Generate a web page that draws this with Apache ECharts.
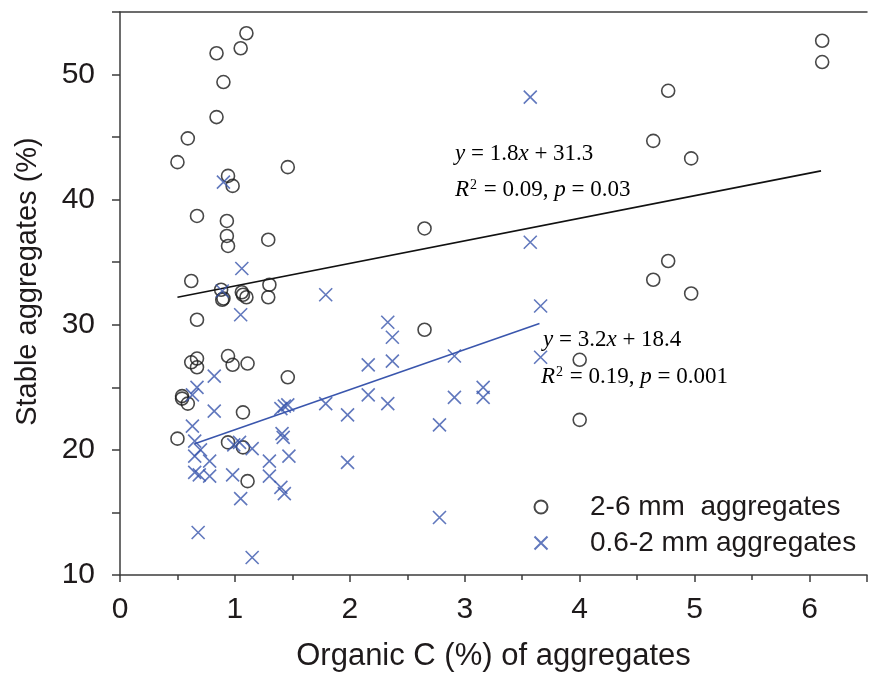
<!DOCTYPE html>
<html>
<head>
<meta charset="utf-8">
<script src="https://cdn.jsdelivr.net/npm/echarts@6/dist/echarts.min.js"></script>
<style>
  html, body { margin: 0; padding: 0; background: #fff; }
  #chart { width: 870px; height: 677px; }
</style>
</head>
<body>
<div id="chart"></div>
<script>
// 2-6 mm aggregates (circles)
const coarseC = [1.10, 1.05, 0.84, 0.90, 0.84, 0.59, 0.50, 1.46, 0.94, 0.98,
  0.67, 0.93, 0.93, 0.94, 1.29, 0.62, 1.30, 1.29, 1.06, 1.07,
  1.10, 0.88, 0.89, 0.90, 0.67, 0.62, 0.67, 0.67, 0.94, 0.98,
  1.11, 1.46, 0.54, 0.54, 0.59, 1.07, 0.50, 0.94, 1.07, 1.11,
  2.65, 2.65, 4.00, 4.00, 4.64, 4.97, 6.11, 6.11, 4.77, 4.64,
  4.97, 4.77];
const coarseStable = [53.3, 52.1, 51.7, 49.4, 46.6, 44.9, 43.0, 42.6, 41.9, 41.1,
  38.7, 38.3, 37.1, 36.3, 36.8, 33.5, 33.2, 32.2, 32.6, 32.4,
  32.2, 32.8, 32.0, 32.1, 30.4, 27.0, 27.3, 26.6, 27.5, 26.8,
  26.9, 25.8, 24.3, 24.1, 23.7, 23.0, 20.9, 20.6, 20.2, 17.5,
  37.7, 29.6, 27.2, 22.4, 33.6, 32.5, 52.7, 51.0, 48.7, 44.7,
  43.3, 35.1];

// 0.6-2 mm aggregates (crosses)
const fineC = [0.90, 1.06, 0.89, 1.05, 0.82, 0.67, 0.63, 0.82, 0.63, 0.65,
  0.70, 0.65, 0.78, 0.65, 0.69, 0.78, 0.98, 0.99, 1.04, 1.15,
  1.30, 1.30, 1.05, 1.40, 1.43, 1.47, 1.41, 1.42, 1.43, 1.46,
  1.40, 0.68, 1.15, 1.79, 2.33, 2.37, 2.37, 2.16, 2.16, 1.79,
  1.98, 2.33, 1.98, 2.91, 2.91, 2.78, 2.78, 3.16, 3.16, 3.66,
  3.66, 3.57, 3.57];
const fineStable = [41.4, 34.5, 32.7, 30.8, 25.9, 25.0, 24.4, 23.1, 21.9, 20.7,
  20.0, 19.5, 19.1, 18.2, 18.0, 17.9, 18.0, 20.4, 20.6, 20.1,
  19.1, 17.9, 16.1, 17.0, 16.5, 19.5, 21.3, 21.0, 23.5, 23.6,
  23.3, 13.4, 11.4, 32.4, 30.2, 29.0, 27.1, 26.8, 24.4, 23.7,
  22.8, 23.7, 19.0, 27.5, 24.2, 22.0, 14.6, 25.0, 24.2, 31.5,
  27.4, 48.2, 36.6];

// fitted lines, end points
const coarseFitX = [0.50, 6.10];
const coarseFitY = [32.2, 42.3];
const fineFitX = [0.65, 3.65];
const fineFitY = [20.5, 30.1];

const seriesNames = ['2-6 mm  aggregates', '0.6-2 mm aggregates'];

const blue = '#3a56ad';
const ink = '#1e1a1b';
const sans = 'Liberation Sans, Arial, sans-serif';
const serif = 'Liberation Serif, Times New Roman, serif';

const pairs = (xs, ys) => xs.map((x, i) => [x, ys[i]]);

const eqRich = {
  i: { fontFamily: serif, fontStyle: 'italic', fontSize: 23, color: '#2b2b2b' },
  n: { fontFamily: serif, fontSize: 23, color: '#2b2b2b' },
  s: { fontFamily: serif, fontSize: 14, color: '#2b2b2b', verticalAlign: 'top', padding: [0, 1, 10, 1] }
};

let chart = echarts.init(document.getElementById('chart'));
let option = {
  animation: false,
  grid: { left: 120, right: 0, top: 12, bottom: 101 },
  xAxis: [{
    type: 'value',
    min: 0,
    max: 6.5,
    interval: 1,
    name: 'Organic C (%) of aggregates',
    nameLocation: 'middle',
    nameGap: 66,
    nameTextStyle: { fontFamily: sans, fontSize: 31, color: ink },
    axisLine: { lineStyle: { color: '#3c3c3c', width: 1.5 } },
    axisTick: { length: 7, lineStyle: { color: '#3c3c3c', width: 1.5 } },
    minorTick: { show: true, splitNumber: 2, length: 5, lineStyle: { color: '#3c3c3c', width: 1.5 } },
    splitLine: { show: false },
    axisLabel: {
      fontFamily: sans, fontSize: 30, color: ink, margin: 20,
      formatter: v => (v % 1 === 0 ? String(v) : '')
    }
  }, {
    type: 'value',
    position: 'top',
    min: 0,
    max: 6.5,
    axisLine: { lineStyle: { color: '#3c3c3c', width: 1.5 } },
    axisTick: { show: false },
    axisLabel: { show: false },
    splitLine: { show: false }
  }],
  yAxis: {
    type: 'value',
    min: 10,
    max: 55,
    interval: 5,
    name: 'Stable aggregates (%)',
    nameLocation: 'middle',
    nameGap: 78,
    nameTextStyle: { fontFamily: sans, fontSize: 29, color: ink, padding: [0, 0, 0, 24] },
    axisLine: { lineStyle: { color: '#3c3c3c', width: 1.5 } },
    axisTick: { length: 8, lineStyle: { color: '#3c3c3c', width: 1.5 } },
    splitLine: { show: false },
    axisLabel: {
      fontFamily: sans, fontSize: 30, color: ink, margin: 25,
      formatter: v => (v % 10 === 0 ? String(v) : '')
    }
  },
  legend: {
    data: seriesNames,
    orient: 'vertical',
    left: 527,
    top: 488,
    itemWidth: 28,
    itemHeight: 13,
    itemGap: 8,
    textStyle: { fontFamily: sans, fontSize: 28, color: ink, padding: [0, 0, 0, 30] },
    selectedMode: false
  },
  series: [{
    name: seriesNames[0],
    type: 'scatter',
    data: pairs(coarseC, coarseStable),
    symbol: 'circle',
    symbolSize: 13,
    itemStyle: { color: 'rgba(255,255,255,0)', borderColor: '#1a1a1a', borderWidth: 1.6 },
    z: 3
  }, {
    name: seriesNames[1],
    type: 'scatter',
    data: pairs(fineC, fineStable),
    symbol: 'path://M0,0L10,10M10,0L0,10',
    symbolSize: 13,
    itemStyle: { color: 'none', borderColor: blue, borderWidth: 1.6 },
    z: 3
  }, {
    type: 'line',
    data: pairs(coarseFitX, coarseFitY),
    showSymbol: false,
    symbol: 'none',
    lineStyle: { color: '#111', width: 1.6 },
    z: 2
  }, {
    type: 'line',
    data: pairs(fineFitX, fineFitY),
    showSymbol: false,
    symbol: 'none',
    lineStyle: { color: blue, width: 1.6 },
    z: 2
  }],
  graphic: [{
    type: 'text', left: 455, top: 142,
    style: { text: '{i|y}{n| = 1.8}{i|x}{n| + 31.3}', rich: eqRich }
  }, {
    type: 'text', left: 455, top: 178,
    style: { text: '{i|R}{s|2}{n| = 0.09, }{i|p}{n| = 0.03}', rich: eqRich }
  }, {
    type: 'text', left: 543, top: 328,
    style: { text: '{i|y}{n| = 3.2}{i|x}{n| + 18.4}', rich: eqRich }
  }, {
    type: 'text', left: 541, top: 365,
    style: { text: '{i|R}{s|2}{n| = 0.19, }{i|p}{n| = 0.001}', rich: eqRich }
  }]
};
chart.setOption(option);
</script>
</body>
</html>
